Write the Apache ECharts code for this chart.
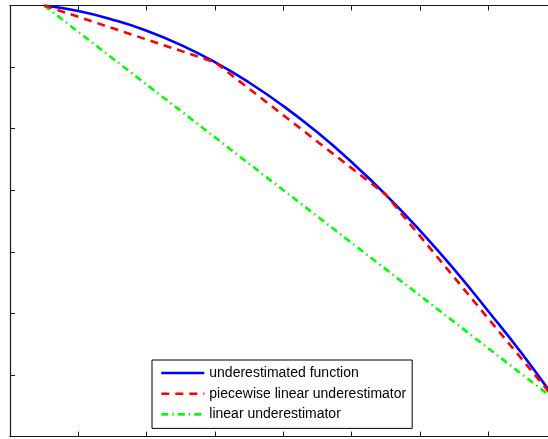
<!DOCTYPE html>
<html>
<head>
<meta charset="utf-8">
<script src="https://cdn.jsdelivr.net/npm/echarts@6/dist/echarts.min.js"></script>
<style>
  html, body { margin: 0; padding: 0; background: #fff; }
  #chart { width: 548px; height: 439px; }
</style>
</head>
<body>
<div id="chart"></div>
<script>
// Sample points of the concave function on [0.5, 8]
const xFunc = [0.5, 1, 1.5, 2, 2.5, 3, 3.5, 4, 4.5, 5, 5.5, 6, 6.5, 7, 7.5, 8];
const yFunc = [7.00, 6.91, 6.77, 6.59, 6.36, 6.08, 5.75, 5.37, 4.94, 4.46, 3.93, 3.35, 2.72, 2.04, 1.34, 0.58];

// Breakpoints of the piecewise linear underestimator
const xPiece = [0.5, 3, 5.5, 8];
const yPiece = [7.00, 6.08, 3.93, 0.58];

// Chord joining the two end points
const xLinear = [0.5, 8];
const yLinear = [7.00, 0.58];

const seriesNames = ['underestimated function', 'piecewise linear underestimator', 'linear underestimator'];

// visible x window (the frame runs a little past the right edge of the canvas)
const xMin = 0;
const xMax = 7.877;

const pairs = (xs, ys) => xs.map((x, i) => [x, ys[i]]);

const axisColor = '#1a1a1a';
const tickCommon = () => ({
  axisLabel: { show: false },
  axisLine: { show: true, onZero: false, lineStyle: { color: axisColor, width: 1.2 } },
  axisTick: { show: true, inside: true, length: 5, lineStyle: { color: axisColor, width: 1 } },
  splitLine: { show: false }
});

const chart = echarts.init(document.getElementById('chart'), null, { renderer: 'canvas' });
chart.setOption({
  animation: false,
  backgroundColor: '#ffffff',
  grid: { left: 10, right: 0, top: 5.5, bottom: 2.4, containLabel: false },
  xAxis: [
    Object.assign({ type: 'value', min: xMin, max: xMax, interval: 1, position: 'bottom' }, tickCommon()),
    Object.assign({ type: 'value', min: xMin, max: xMax, interval: 1, position: 'top' }, tickCommon())
  ],
  yAxis: [
    Object.assign({ type: 'value', min: 0, max: 7, interval: 1, position: 'left' }, tickCommon())
  ],
  legend: {
    orient: 'vertical',
    left: 152,
    top: 360,
    padding: [6, 6, 7, 8],
    itemWidth: 43,
    itemHeight: 14,
    itemGap: 6.7,
    borderColor: '#000',
    borderWidth: 1,
    backgroundColor: '#fff',
    itemStyle: { opacity: 0 },
    lineStyle: { width: 2.6 },
    textStyle: { fontFamily: 'Liberation Sans, Arial, sans-serif', fontSize: 14, color: '#000', lineHeight: 14 },
    data: seriesNames
  },
  series: [
    {
      name: seriesNames[0], type: 'line', data: pairs(xFunc, yFunc), smooth: true,
      symbol: 'none', lineStyle: { color: '#0000ff', width: 2.6, type: 'solid' }, itemStyle: { color: '#0000ff' }, z: 3
    },
    {
      name: seriesNames[1], type: 'line', data: pairs(xPiece, yPiece),
      symbol: 'none', lineStyle: { color: '#ff0000', width: 2.6, type: [8, 6] }, itemStyle: { color: '#ff0000' }, z: 4
    },
    {
      name: seriesNames[2], type: 'line', data: pairs(xLinear, yLinear),
      symbol: 'none', lineStyle: { color: '#00ff00', width: 2.6, type: [7, 4, 1.5, 4] }, itemStyle: { color: '#00ff00' }, z: 2
    }
  ]
});
</script>
</body>
</html>
